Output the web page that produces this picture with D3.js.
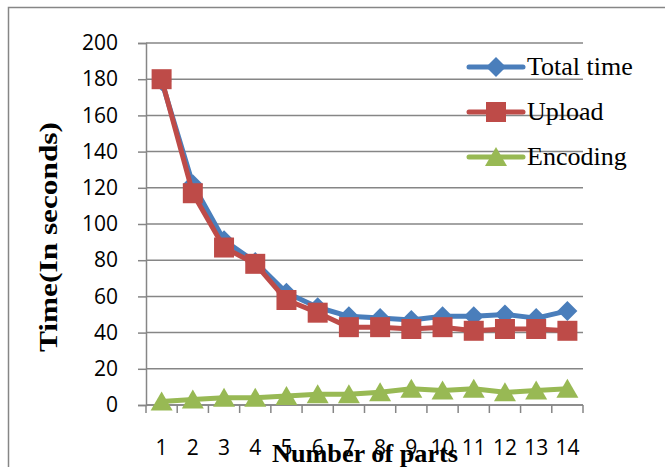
<!DOCTYPE html>
<html>
<head>
<meta charset="utf-8">
<script src="https://cdn.jsdelivr.net/npm/d3@7"></script>
<style>
body { margin: 0; background: #fff; }
</style>
</head>
<body>
<script>
var parts = [1, 2, 3, 4, 5, 6, 7, 8, 9, 10, 11, 12, 13, 14];
var totalTime = [179, 122, 91, 79, 62, 54, 49, 48, 47, 49, 49, 50, 48, 52];
var upload = [180, 117, 87, 78, 58, 51, 43, 43, 42, 43, 41, 42, 42, 41];
var encoding = [2, 3, 4, 4, 5, 6, 6, 7, 9, 8, 9, 7, 8, 9];
var yTicks = [0, 20, 40, 60, 80, 100, 120, 140, 160, 180, 200];
var seriesNames = ["Total time", "Upload", "Encoding"];

var series = [
  {name: seriesNames[0], values: totalTime, color: "#4a7ebb", marker: "diamond"},
  {name: seriesNames[1], values: upload, color: "#be4b48", marker: "square"},
  {name: seriesNames[2], values: encoding, color: "#98b954", marker: "triangle"}
];

var svg = d3.select("body").append("svg")
  .attr("width", 665)
  .attr("height", 467);

// chart border (only top and left visible)
svg.append("rect")
  .attr("x", 8.5).attr("y", 7.5)
  .attr("width", 700).attr("height", 500)
  .attr("fill", "none")
  .attr("stroke", "#868686")
  .attr("stroke-width", 1.5);

var plotLeft = 146, plotRight = 583, plotTop = 43, plotBottom = 405;

var x = d3.scaleBand().domain(parts).range([plotLeft, plotRight]);
var y = d3.scaleLinear().domain([0, 200]).range([plotBottom, plotTop]);

// gridlines
svg.append("g")
  .selectAll("line")
  .data(yTicks)
  .enter()
  .append("line")
  .attr("x1", plotLeft).attr("x2", plotRight)
  .attr("y1", function(d) { return y(d); })
  .attr("y2", function(d) { return y(d); })
  .attr("stroke", "#868686")
  .attr("stroke-width", 1.5);

// y axis
var yAxis = svg.append("g")
  .attr("transform", "translate(" + plotLeft + ",0)")
  .call(d3.axisLeft(y).tickValues(yTicks).tickSize(8).tickPadding(20));
yAxis.selectAll("line, path").attr("stroke", "#868686").attr("stroke-width", 1.5);
yAxis.selectAll("text")
  .attr("font-family", "'Open Sans', sans-serif")
  .attr("font-size", 21)
  .attr("fill", "#000");

// x axis: ticks between categories
var xAxisG = svg.append("g");
xAxisG.append("line")
  .attr("x1", plotLeft).attr("x2", plotRight)
  .attr("y1", plotBottom).attr("y2", plotBottom)
  .attr("stroke", "#868686").attr("stroke-width", 1.5);
var boundaries = parts.map(function(p) { return x(p); }).concat([plotRight]);
xAxisG.selectAll(".xt")
  .data(boundaries)
  .enter()
  .append("line")
  .attr("x1", function(d) { return d; })
  .attr("x2", function(d) { return d; })
  .attr("y1", plotBottom).attr("y2", plotBottom + 8)
  .attr("stroke", "#868686").attr("stroke-width", 1.5);
xAxisG.selectAll(".xl")
  .data(parts)
  .enter()
  .append("text")
  .attr("x", function(d) { return x(d) + x.bandwidth() / 2; })
  .attr("y", 455)
  .attr("text-anchor", "middle")
  .attr("font-family", "'Open Sans', sans-serif")
  .attr("font-size", 21)
  .text(function(d) { return d; });

function markerPath(type) {
  if (type == "diamond") return "M0,-10L10,0L0,10L-10,0Z";
  if (type == "square") return "M-10,-10H10V10H-10Z";
  return "M0,-10L11,9L-11,9Z";
}

var line = d3.line()
  .x(function(d, i) { return x(parts[i]) + x.bandwidth() / 2; })
  .y(function(d) { return y(d); });

series.forEach(function(s) {
  svg.append("path")
    .attr("d", line(s.values))
    .attr("fill", "none")
    .attr("stroke", s.color)
    .attr("stroke-width", 5)
    .attr("stroke-linejoin", "round");
  svg.selectAll(".m-" + s.marker)
    .data(s.values)
    .enter()
    .append("path")
    .attr("class", "m-" + s.marker)
    .attr("d", markerPath(s.marker))
    .attr("transform", function(d, i) {
      return "translate(" + (x(parts[i]) + x.bandwidth() / 2) + "," + y(d) + ")";
    })
    .attr("fill", s.color);
});

// legend
var legend = svg.append("g");
series.forEach(function(s, i) {
  var ly = 67 + i * 45;
  legend.append("line")
    .attr("x1", 469).attr("x2", 523)
    .attr("y1", ly).attr("y2", ly)
    .attr("stroke", s.color)
    .attr("stroke-width", 5)
    .attr("stroke-linecap", "round");
  legend.append("path")
    .attr("d", markerPath(s.marker))
    .attr("transform", "translate(496," + ly + ")")
    .attr("fill", s.color);
  legend.append("text")
    .attr("x", 527)
    .attr("y", ly + 8)
    .attr("font-family", "'Liberation Serif', 'Times New Roman', serif")
    .attr("font-size", 26)
    .text(s.name);
});

// axis titles
svg.append("text")
  .attr("x", 365)
  .attr("y", 462)
  .attr("text-anchor", "middle")
  .attr("font-family", "'Liberation Serif', 'Times New Roman', serif")
  .attr("font-weight", "bold")
  .attr("font-size", 25)
  .attr("textLength", 186)
  .attr("lengthAdjust", "spacingAndGlyphs")
  .text("Number of parts");

svg.append("text")
  .attr("transform", "translate(57,237) rotate(-90)")
  .attr("text-anchor", "middle")
  .attr("font-family", "'Liberation Serif', 'Times New Roman', serif")
  .attr("font-weight", "bold")
  .attr("font-size", 26)
  .attr("textLength", 230)
  .attr("lengthAdjust", "spacingAndGlyphs")
  .text("Time(In seconds)");
</script>
</body>
</html>
